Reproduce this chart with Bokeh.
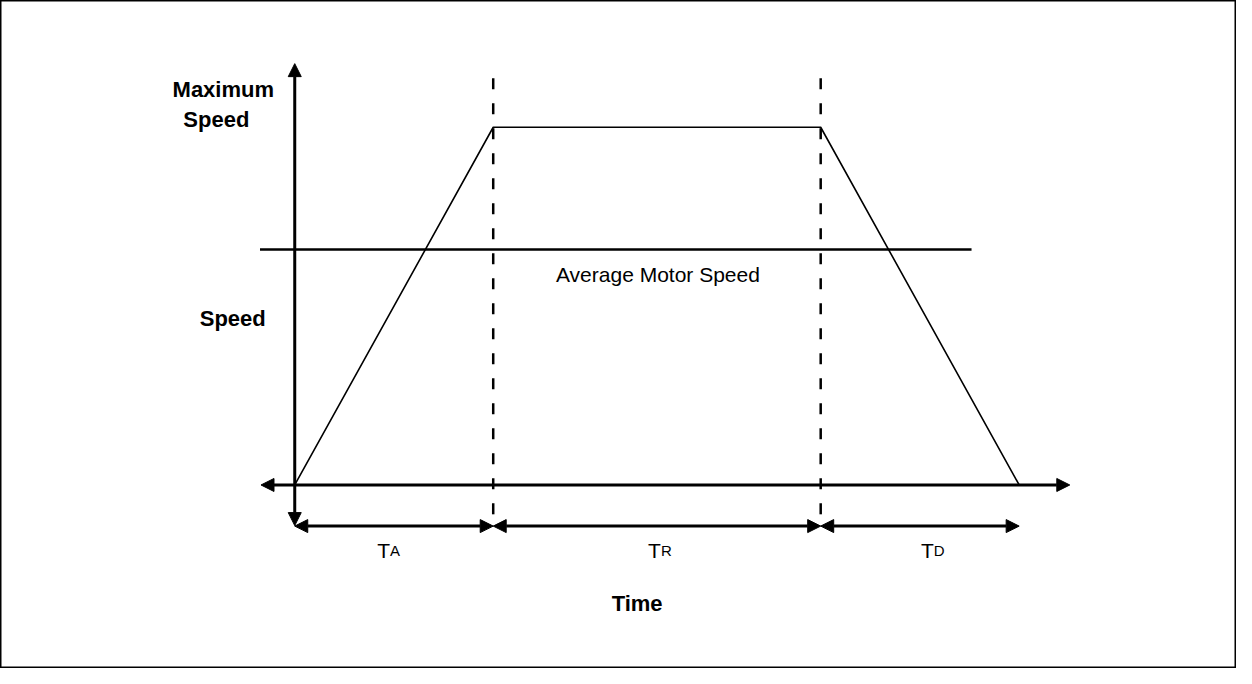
from bokeh.plotting import figure
from bokeh.models import Range1d, Arrow, NormalHead
from bokeh.core.properties import value
from bokeh.embed import file_html
from bokeh.resources import INLINE

# ---- data ----
phases = ["A", "R", "D"]            # acceleration, run, deceleration
durations = [2.0, 3.3, 2.0]         # TA, TR, TD (time units)
max_speed = 100.0
avg_speed = 65.8

t_marks = [0.0, durations[0], durations[0] + durations[1], sum(durations)]
profile_t = t_marks
profile_v = [0.0, max_speed, max_speed, 0.0]

# ---- layout helpers (reference pixels -> data) ----
W, H = 1236, 668
X0, SX = 301.0, 100.0     # ref x of time 0, px per time unit
Y0, SY = 495.5, 3.655     # ref y of speed 0, px per speed unit
def dx(px): return (px - X0) / SX
def dy(py): return (Y0 - py) / SY

FONT = value("Liberation Sans")

p = figure(width=W, height=H, output_backend="svg", toolbar_location=None,
           x_range=Range1d(dx(4.5), dx(1250)), y_range=Range1d(dy(683), dy(0.5)),
           x_axis_type=None, y_axis_type=None, min_border=0)
p.grid.visible = False
p.outline_line_color = "black"
p.outline_line_width = 2
p.background_fill_color = "white"
p.border_fill_color = "white"

# speed profile
p.line(profile_t, profile_v, line_color="black", line_width=1.6)

# average speed line
p.segment(x0=[dx(266)], y0=[avg_speed], x1=[dx(983)], y1=[avg_speed],
          line_color="black", line_width=2.5)

# dashed phase boundaries
bt = t_marks[1:3]
p.segment(x0=bt, y0=[dy(80)] * 2, x1=bt, y1=[dy(530)] * 2,
          line_color="black", line_width=2.5, line_dash="11 14")

def head():
    return NormalHead(size=13, fill_color="black", line_color="black", line_width=1)

# axes with arrows
p.add_layout(Arrow(x_start=dx(267), y_start=0, x_end=dx(1082), y_end=0,
                   start=head(), end=head(), line_width=3, line_color="black"))
p.add_layout(Arrow(x_start=0, y_start=dy(537), x_end=0, y_end=dy(65),
                   start=head(), end=head(), line_width=3, line_color="black"))

# dimension arrows
dim_y = dy(537.5)
for a, b in zip(t_marks[:-1], t_marks[1:]):
    p.add_layout(Arrow(x_start=a, y_start=dim_y, x_end=b, y_end=dim_y,
                       start=head(), end=head(), line_width=3, line_color="black"))

# phase labels: T with smaller letter
lab_off = [-4, 4, 14]
mids = [(a + b) / 2 for a, b in zip(t_marks[:-1], t_marks[1:])]
jx = [m + o / SX for m, o in zip(mids, lab_off)]
p.text(x=jx, y=[dy(562)] * 3, text=["T"] * 3, text_font=FONT, text_font_size="21px",
       text_align="right", text_baseline="alphabetic", text_color="black")
p.text(x=jx, y=[dy(562)] * 3, text=phases, text_font=FONT, text_font_size="15px",
       text_align="left", text_baseline="alphabetic", text_color="black")

# bold labels
p.text(x=[dx(229), dx(222), dx(238.5), dx(646)], y=[dy(91), dy(122), dy(325), dy(617)],
       text=["Maximum", "Speed", "Speed", "Time"], text_font=FONT,
       text_font_size="22px", text_font_style="bold", text_align="center",
       text_baseline="alphabetic", text_color="black")

p.text(x=[dx(667)], y=[dy(280)], text=["Average Motor Speed"], text_font=FONT,
       text_font_size="21px", text_align="center", text_baseline="alphabetic",
       text_color="black")

open("out.html", "w").write(file_html(p, INLINE))
